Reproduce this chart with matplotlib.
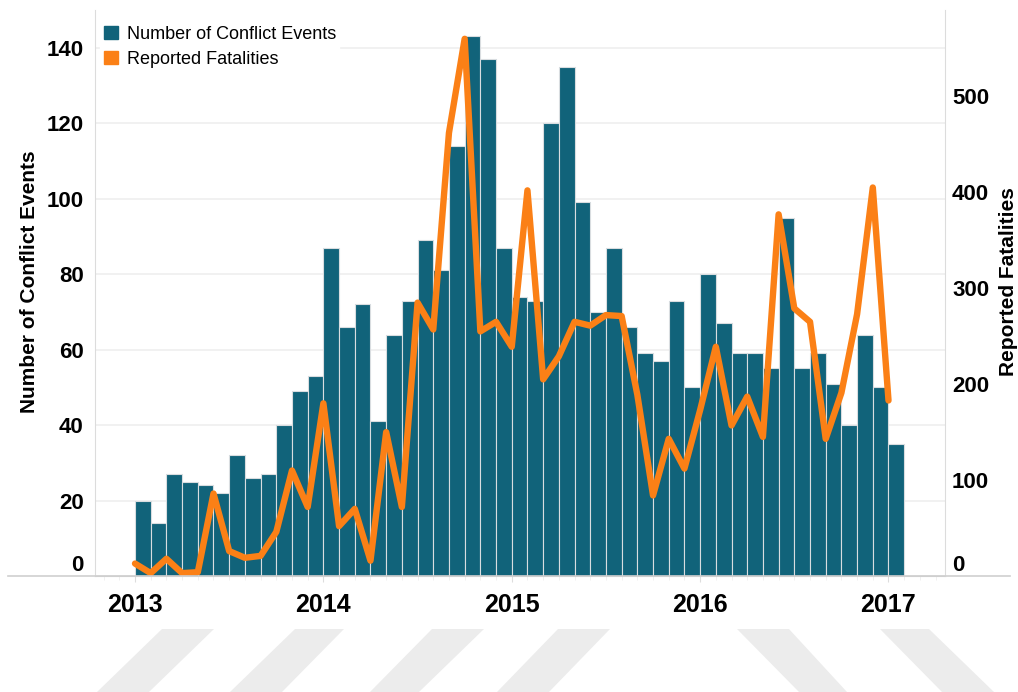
import numpy as np
import matplotlib
matplotlib.use("Agg")
import matplotlib.pyplot as plt
from matplotlib.patches import Patch, Polygon
from matplotlib.lines import Line2D

# monthly data, Jan 2013 - Jan 2017
events = [20, 14, 27, 25, 24, 22, 32, 26, 27, 40, 49, 53,
          87, 66, 72, 41, 64, 73, 89, 81, 114, 143, 137, 87,
          74, 73, 120, 135, 99, 70, 87, 66, 59, 57, 73, 50,
          80, 67, 59, 59, 55, 95, 55, 59, 51, 40, 64, 50,
          35]
fatalities = [13, 3, 18, 3, 4, 86, 26, 19, 21, 46, 110, 72,
              180, 52, 70, 16, 150, 72, 285, 257, 462, 560, 255, 265,
              239, 402, 205, 229, 265, 261, 272, 271, 189, 84, 143, 112,
              173, 239, 157, 187, 145, 377, 279, 265, 143, 191, 273, 405,
              183]
years = ["2013", "2014", "2015", "2016", "2017"]

teal = "#11637a"
orange = "#fb8016"
bold_narrow = ["Liberation Sans Narrow", "Liberation Sans", "DejaVu Sans"]

plt.rcParams["font.family"] = ["Liberation Sans", "DejaVu Sans"]

fig = plt.figure(figsize=(10.18, 6.92), dpi=100)
ax = fig.add_axes([0.0933, 0.1676, 0.8350, 0.8179])
ax2 = ax.twinx()

x = np.arange(len(events))
ax.bar(x, events, width=1, align="edge", color=teal, edgecolor="#d9dde0", linewidth=0.8, zorder=2)
ax2.plot(x, fatalities, color=orange, lw=4.6, solid_joinstyle="round", solid_capstyle="round", zorder=3)

ax.set_xlim(-2.55, 51.6)
ax.set_ylim(0, 150)
ax2.set_ylim(0, 590)

ax.set_yticks(range(0, 141, 20))
ax2.set_yticks(range(0, 501, 100))
ax.set_xticks(np.arange(0, 49, 12))
ax.set_xticks(np.arange(-2, 52, 1), minor=True)
ax.set_xticklabels(years)

ax.yaxis.grid(True, color="#efefef", lw=1.2, zorder=0)
ax.set_axisbelow(True)

for a in (ax, ax2):
    a.spines["top"].set_visible(False)
    a.spines["left"].set_color("#dcdcdc")
    a.spines["right"].set_color("#dcdcdc")
    a.spines["bottom"].set_color("#cfcfcf")
ax.spines["right"].set_visible(False)
ax2.spines["left"].set_visible(False)
ax2.spines["bottom"].set_visible(False)

ax.tick_params(axis="y", length=0, pad=8, labelsize=16)
ax2.tick_params(axis="y", length=0, pad=5, labelsize=16)
ax.tick_params(axis="x", which="major", length=4, color="#dddddd", pad=8, labelsize=18)
ax.tick_params(axis="x", which="minor", length=3, color="#eeeeee")
for lab in ax.get_yticklabels() + ax2.get_yticklabels():
    lab.set_fontweight("bold")
for lab in ax.get_xticklabels():
    lab.set_fontweight("bold")
    lab.set_family(bold_narrow)
ax.get_yticklabels()[0].set_va("bottom")
ax2.get_yticklabels()[0].set_va("bottom")

ax.set_ylabel("Number of Conflict Events", fontsize=15, fontweight="bold")
ax.yaxis.set_label_coords(-0.066, 0.52)
ax2.set_ylabel("Reported Fatalities", fontsize=15, fontweight="bold")
ax2.yaxis.set_label_coords(1.064, 0.52)

handles = [Patch(color=teal), Patch(color=orange)]
leg = ax2.legend(handles, ["Number of Conflict Events", "Reported Fatalities"],
                 loc="upper left", bbox_to_anchor=(0.0, 0.988), frameon=True,
                 fontsize=13, handlelength=0.75, handleheight=0.75, handletextpad=0.5,
                 labelspacing=0.45, borderaxespad=0.3, borderpad=0.2)
leg.get_frame().set_edgecolor("white")
leg.get_frame().set_facecolor("white")
leg.get_frame().set_alpha(1)

# baseline across the whole figure
fig.add_artist(Line2D([0.008, 0.992], [0.1676, 0.1676], transform=fig.transFigure,
                      color="#cfcfcf", lw=1.2))

# light watermark stripes at the bottom
W, H = 1018, 692
stripes = [
    [(97, 692), (149, 692), (214, 629), (162, 629)],
    [(230, 692), (282, 692), (344, 629), (295, 629)],
    [(370, 692), (419, 692), (484, 629), (432, 629)],
    [(497, 692), (549, 692), (610, 629), (558, 629)],
    [(799, 692), (847, 692), (789, 629), (737, 629)],
    [(942, 692), (994, 692), (929, 629), (880, 629)],
]
for st in stripes:
    pts = [(px / W, 1 - py / H) for px, py in st]
    fig.add_artist(Polygon(pts, closed=True, transform=fig.transFigure,
                           facecolor="#ececec", edgecolor="none", zorder=0))

fig.savefig("out.png", dpi=100)
